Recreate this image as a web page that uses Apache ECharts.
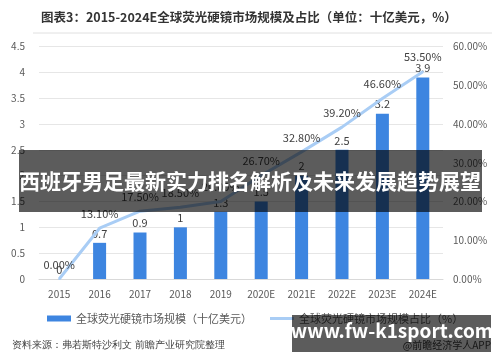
<!DOCTYPE html>
<html><head><meta charset="utf-8">
<script src="https://cdn.jsdelivr.net/npm/echarts@6/dist/echarts.min.js"></script>
<style>html,body{margin:0;padding:0;background:#fff}#c{width:500px;height:362px}</style>
</head><body><div id="c"></div>
<script>
var categories = ['2015','2016','2017','2018','2019','2020E','2021E','2022E','2023E','2024E'];
var marketSize = [0, 0.7, 0.9, 1, 1.3, 1.5, 2, 2.5, 3.2, 3.9];
var marketShare = [0, 13.1, 17.5, 18.5, 20.0, 26.7, 32.8, 39.2, 46.6, 53.5];
var leftTicks = {min: 0, max: 4.5, interval: 0.5};
var rightTicks = {min: 0, max: 60, interval: 10};
var titleText = '图表3：2015-2024E全球荧光硬镜市场规模及占比（单位：十亿美元，%）';
var seriesNames = ['全球荧光硬镜市场规模（十亿美元）', '全球荧光硬镜市场规模占比（%）'];
var sourceText = '资料来源：弗若斯特沙利文 前瞻产业研究院整理';
var appText = '@前瞻经济学人APP';
var bannerText = '西班牙男足最新实力排名解析及未来发展趋势展望';
var siteText = 'www.fw-k1sport.com';

var font = '"Noto Sans CJK SC", "Noto Sans", sans-serif';
var chart = echarts.init(document.getElementById('c'), null, {renderer: 'canvas'});
chart.setOption({
  animation: false,
  textStyle: {fontFamily: font},
  title: {
    text: titleText, left: 36, top: 6,
    textStyle: {fontSize: 12.5, fontWeight: 'bold', color: '#333', fontFamily: font}
  },
  grid: {left: 39, right: 57, top: 46.5, bottom: 83, containLabel: false},
  legend: {
    bottom: 33, left: 42, itemGap: 18, itemWidth: 24, itemHeight: 6,
    textStyle: {fontSize: 11, color: '#595959', fontFamily: font},
    data: [
      {name: seriesNames[0], icon: 'rect'},
      {name: seriesNames[1], icon: 'path://M0,0H24V3H0Z', itemStyle: {color: '#a9cdf5'}}
    ]
  },
  xAxis: {
    type: 'category', data: categories,
    axisLine: {lineStyle: {color: '#d9d9d9'}},
    axisTick: {show: false},
    axisLabel: {fontSize: 10, color: '#595959', margin: 10, fontFamily: font}
  },
  yAxis: [
    {type: 'value', min: leftTicks.min, max: leftTicks.max, interval: leftTicks.interval,
     axisLabel: {fontSize: 10, color: '#595959', margin: 14, fontFamily: font},
     splitLine: {lineStyle: {color: '#e6e6e6'}}, axisLine: {show: false}, axisTick: {show: false}},
    {type: 'value', min: rightTicks.min, max: rightTicks.max, interval: rightTicks.interval,
     axisLabel: {fontSize: 10, color: '#595959', margin: 10, fontFamily: font,
       formatter: function (v) { return v.toFixed(2) + '%'; }},
     splitLine: {show: false}, axisLine: {show: false}, axisTick: {show: false}}
  ],
  series: [
    {name: seriesNames[0], type: 'bar', data: marketSize, barWidth: 13, yAxisIndex: 0,
     itemStyle: {color: '#3d85e0'},
     label: {show: true, position: 'top', fontSize: 11, color: '#404040', distance: 4, fontFamily: font}},
    {name: seriesNames[1], type: 'line', data: marketShare, yAxisIndex: 1,
     symbol: 'circle', symbolSize: 2, showSymbol: true,
     smooth: false, lineStyle: {color: '#a9cdf5', width: 3}, itemStyle: {color: '#a9cdf5'},
     label: {show: true, position: 'top', fontSize: 11, color: '#404040', distance: 8, fontFamily: font,
       formatter: function (p) { return p.value.toFixed(2) + '%'; }},
     labelLayout: {hideOverlap: false}}
  ],
  graphic: [
    {type: 'line', shape: {x1: 33, y1: 33, x2: 492, y2: 33}, style: {stroke: '#e0e0e0', lineWidth: 1}},
    {type: 'text', left: 12, top: 340, style: {text: sourceText, fontSize: 10, fill: '#404040', font: '10px ' + font}},
    {type: 'text', right: 9, top: 340, style: {text: appText, fill: '#404040', font: '10px ' + font}},
    {type: 'rect', shape: {x: 19, y: 150, width: 463, height: 62}, style: {fill: 'rgba(0,0,0,0.64)'}, z: 100},
    {type: 'text', x: 250, y: 181, z: 101,
     style: {text: bannerText, fill: '#fff', align: 'center', verticalAlign: 'middle', font: 'bold 21px ' + font}},
    {type: 'rect', shape: {x: 292, y: 315, width: 199, height: 37}, style: {fill: 'rgba(0,0,0,0.64)'}, z: 100},
    {type: 'text', x: 392, y: 331, z: 101,
     style: {text: siteText, fill: '#fff', align: 'center', verticalAlign: 'middle', font: 'bold 19px ' + font}}
  ]
});
</script></body></html>
